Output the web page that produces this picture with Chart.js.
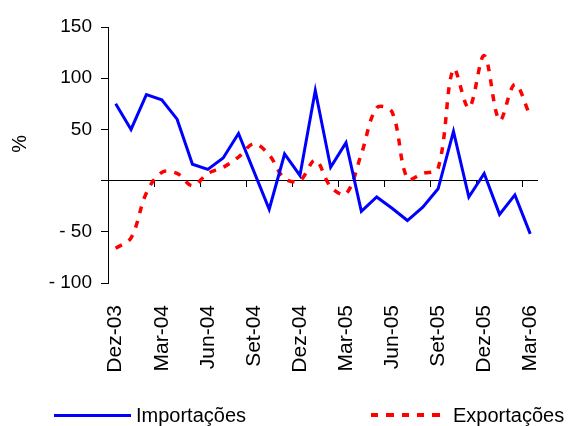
<!DOCTYPE html>
<html lang="pt">
<head>
<meta charset="UTF-8">
<title>Importações e Exportações</title>
<style>
    body {
        margin: 0;
        background: #fff;
        font-family: "Liberation Sans", Arial, sans-serif;
    }
    #wrap {
        position: relative;
        width: 570px;
        height: 426px;
    }
    .legend-item {
        position: absolute;
        top: 403px;
        display: flex;
        align-items: center;
        font-size: 20px;
        line-height: 24px;
        color: #000;
        white-space: nowrap;
    }
    .legend-item .swatch {
        height: 3px;
    }
    #leg-imp { left: 54px; }
    #leg-imp .swatch { width: 77px; margin-right: 5px; }
    #leg-exp { left: 371px; }
    #leg-exp .swatch { width: 69px; height: 4px; margin-right: 13px; }
</style>
<script src="https://cdn.jsdelivr.net/npm/chart.js"></script>
</head>
<body>
<div id="wrap">
    <canvas id="chart"></canvas>
    <div class="legend-item" id="leg-imp"><span class="swatch"></span><span class="txt"></span></div>
    <div class="legend-item" id="leg-exp"><span class="swatch"></span><span class="txt"></span></div>
</div>

<script>
    // monthly variation, Dez-03 .. Mar-06 (%)
    const labels = [
        'Dez-03', 'Jan-04', 'Fev-04', 'Mar-04', 'Abr-04', 'Mai-04', 'Jun-04',
        'Jul-04', 'Ago-04', 'Set-04', 'Out-04', 'Nov-04', 'Dez-04', 'Jan-05',
        'Fev-05', 'Mar-05', 'Abr-05', 'Mai-05', 'Jun-05', 'Jul-05', 'Ago-05',
        'Set-05', 'Out-05', 'Nov-05', 'Dez-05', 'Jan-06', 'Fev-06', 'Mar-06'
    ];
    const importacoes = [
        75, 50, 84, 79, 60, 16, 11, 22, 46, 9, -28, 26, 5, 88,
        13, 37, -30, -16, -27, -39, -26, -8, 48, -16, 7, -33, -14, -52
    ];
    const exportacoes = [
        -66, -56, -12, 8, 7, -5, 7, 13, 23, 36, 25, 2, 0, 20,
        -6, -13, 26, 71, 67, 2, 7, 12, 109, 71, 122, 59, 94, 63
    ];

    Chart.defaults.font.family = '"Liberation Sans", Arial, sans-serif';
    Chart.defaults.color = '#000';

    const ctx = document.getElementById('chart').getContext('2d');
    const chart = new Chart(ctx, {
        type: 'line',
        data: {
            labels: labels,
            datasets: [
                {
                    label: 'Importações',
                    data: importacoes,
                    borderColor: '#0000ff',
                    borderWidth: 3,
                    pointRadius: 0,
                    tension: 0
                },
                {
                    label: 'Exportações',
                    data: exportacoes,
                    borderColor: '#ff0000',
                    borderWidth: 3.5,
                    borderDash: [7, 8],
                    pointRadius: 0,
                    tension: 0.35
                }
            ]
        },
        options: {
            responsive: true,
            maintainAspectRatio: false,
            animation: false,
            layout: { padding: { top: 27, right: 31, bottom: 0, left: 0 } },
            plugins: {
                legend: { display: false },
                tooltip: { enabled: false }
            },
            scales: {
                // zero line with tick marks between quarters
                x: {
                    type: 'category',
                    position: { y: 0 },
                    offset: true,
                    grid: {
                        offset: true,
                        drawOnChartArea: false,
                        tickLength: 6,
                        tickColor: (c) => (c.index % 3 === 0 && c.index > 0 && c.index < labels.length) ? '#000' : 'rgba(0,0,0,0)'
                    },
                    border: { color: '#000', width: 1 },
                    ticks: { display: false, autoSkip: false }
                },
                // month labels at the bottom
                xLabels: {
                    axis: 'x',
                    type: 'category',
                    position: 'bottom',
                    offset: true,
                    grid: { display: false },
                    border: { display: false },
                    ticks: {
                        autoSkip: false,
                        maxRotation: 90,
                        minRotation: 90,
                        padding: 14,
                        font: { size: 21 },
                        callback: (v, i) => i % 3 === 0 ? labels[i] : ''
                    },
                    afterFit: (s) => { s.height = 143; }
                },
                y: {
                    min: -100,
                    max: 150,
                    ticks: {
                        stepSize: 50,
                        padding: 9,
                        font: { size: 19 },
                        callback: (v) => v === 0 ? '' : (v < 0 ? '- ' + (-v) : String(v))
                    },
                    grid: { drawOnChartArea: false, tickLength: 7, color: '#000' },
                    border: { color: '#000' },
                    title: {
                        display: true,
                        text: '    %',
                        font: { size: 20 },
                        padding: { top: 8, bottom: 0 }
                    },
                    afterFit: (s) => { s.width = 108; }
                }
            }
        }
    });

    // legend below the chart, built from the datasets
    const legImp = document.getElementById('leg-imp');
    legImp.querySelector('.swatch').style.background = chart.data.datasets[0].borderColor;
    legImp.querySelector('.txt').textContent = chart.data.datasets[0].label;

    const legExp = document.getElementById('leg-exp');
    const red = chart.data.datasets[1].borderColor;
    legExp.querySelector('.swatch').style.background =
        'repeating-linear-gradient(to right, ' + red + ' 0 7.5px, transparent 7.5px 15.3px)';
    legExp.querySelector('.txt').textContent = chart.data.datasets[1].label;
</script>
</body>
</html>
